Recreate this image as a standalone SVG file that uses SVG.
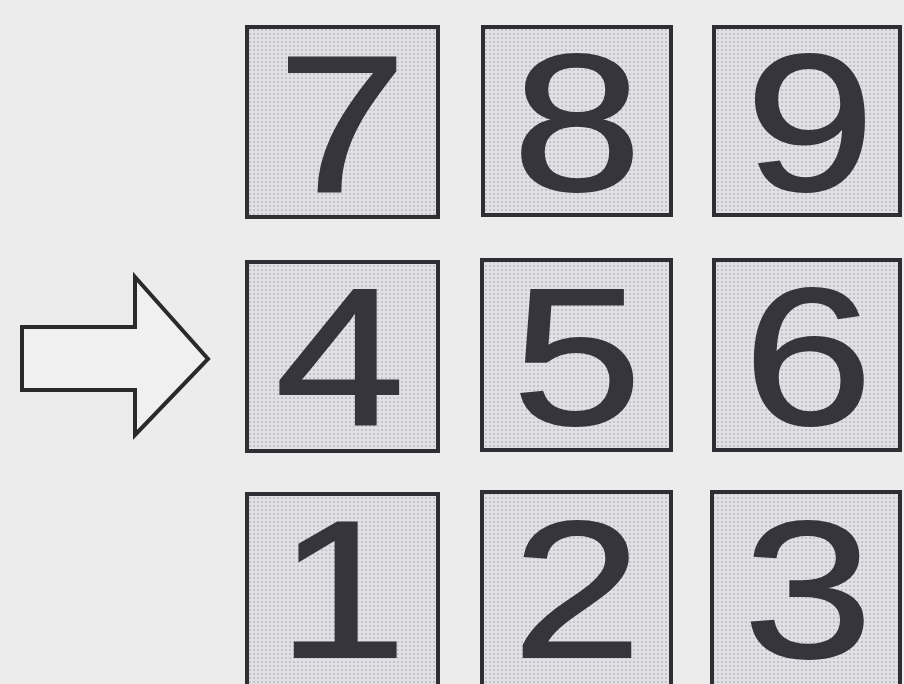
<svg xmlns="http://www.w3.org/2000/svg" width="904" height="684" viewBox="0 0 904 684">
<defs>
<pattern id="dots" width="4" height="4" patternUnits="userSpaceOnUse">
<rect width="4" height="4" fill="#e1e1e5"/>
<circle cx="2" cy="2" r="1" fill="#b9b9c1"/>
</pattern>
</defs>
<style>
.key rect{fill:url(#dots);stroke:#2f2f33;stroke-width:4}
.key text{font-family:"Liberation Sans",Arial,sans-serif;font-size:194px;fill:#35353b;stroke:#35353b;stroke-width:2;text-anchor:middle}
.arrow{fill:#f0f0f0;stroke:#2a2a2a;stroke-width:4;stroke-linejoin:miter}
</style>
<rect width="904" height="684" fill="#ececec"/>
<g id="connectors">
<polygon class="arrow" points="22,327 135,327 135,277 208,359 135,435 135,390 22,390"/>
</g>
<g id="key7" class="key"><rect x="247" y="27" width="191" height="190"/><text transform="translate(342,192) scale(1.2,1)">7</text></g>
<g id="key8" class="key"><rect x="483" y="27" width="188" height="188"/><text transform="translate(577,190) scale(1.2,1)">8</text></g>
<g id="key9" class="key"><rect x="714" y="27" width="186" height="188"/><text transform="translate(810,190) scale(1.2,1)">9</text></g>
<g id="key4" class="key"><rect x="247" y="262" width="191" height="189"/><text transform="translate(340,424) scale(1.2,1)">4</text></g>
<g id="key5" class="key"><rect x="482" y="260" width="189" height="190"/><text transform="translate(577,424) scale(1.2,1)">5</text></g>
<g id="key6" class="key"><rect x="714" y="260" width="186" height="190"/><text transform="translate(808,424) scale(1.2,1)">6</text></g>
<g id="key1" class="key"><rect x="247" y="494" width="191" height="195"/><text transform="translate(342,657) scale(1.2,1)">1</text></g>
<g id="key2" class="key"><rect x="482" y="492" width="189" height="197"/><text transform="translate(577,657) scale(1.2,1)">2</text></g>
<g id="key3" class="key"><rect x="712" y="492" width="188" height="197"/><text transform="translate(808,657) scale(1.2,1)">3</text></g>
</svg>
